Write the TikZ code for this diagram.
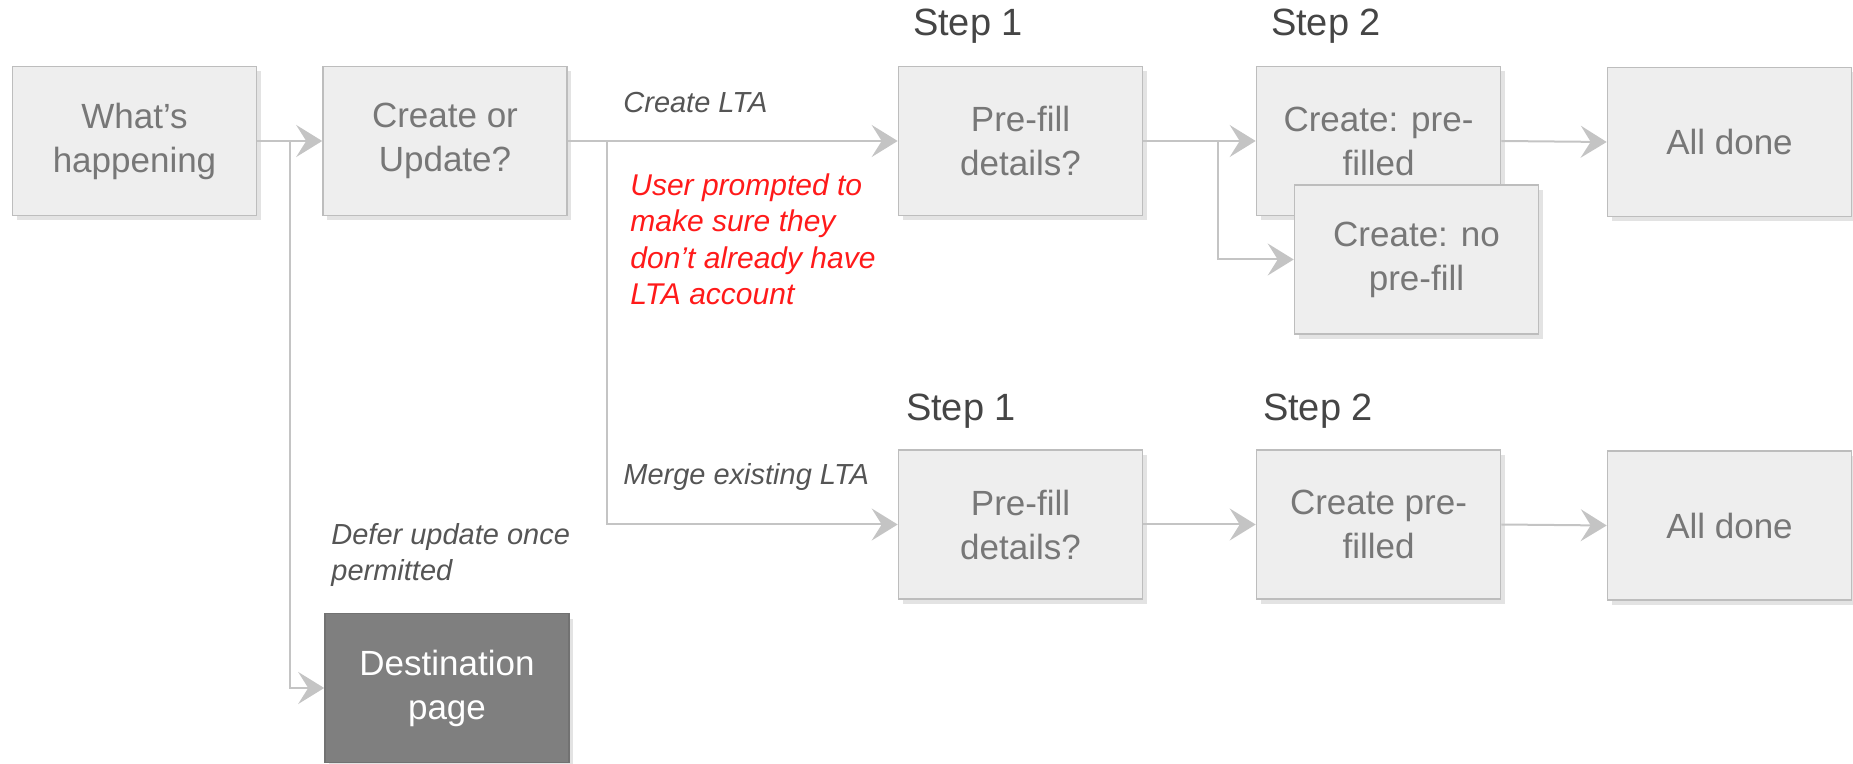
\documentclass[tikz,border=0pt]{standalone}
\usepackage{fontspec}
\setmainfont{Liberation Sans}
\usetikzlibrary{arrows.meta,shadows,positioning}
\definecolor{boxfill}{HTML}{EEEEEE}
\definecolor{boxline}{HTML}{BDBDBD}
\definecolor{boxtext}{HTML}{777777}
\definecolor{darkfill}{HTML}{7F7F7F}
\definecolor{linegray}{HTML}{C4C4C4}
\definecolor{labeltext}{HTML}{555555}
\definecolor{steptext}{HTML}{454545}
\definecolor{notered}{HTML}{FF1A1A}

\begin{document}
\begin{tikzpicture}[x=0.5pt,y=-0.5pt]
	\tikzstyle{flowbox}=[rectangle, draw=boxline, line width=0.8pt, fill=boxfill, text=boxtext, minimum width=122pt, minimum height=74.5pt, align=center, font=\fontsize{17.5}{22}\selectfont, inner sep=2pt, drop shadow={shadow xshift=2pt, shadow yshift=-2.5pt, opacity=0.22}]
	\tikzstyle{darkbox}=[flowbox, fill=darkfill, draw=darkfill!90!black, text=white]
	\tikzstyle{conn}=[draw=linegray, line width=1pt, -{Stealth[length=13pt,width=16pt,inset=5pt]}]
	\tikzstyle{lbl}=[text=labeltext, font=\fontsize{14.5}{18}\selectfont\itshape, align=left, inner sep=0pt]
	\tikzstyle{steplbl}=[text=steptext, font=\fontsize{19}{22}\selectfont, inner sep=0pt]
	\useasboundingbox (0,0) rectangle (1853,764);

	% first row
	\node[flowbox] (what) at (134.5,141) {What’s\\happening};
	\node[flowbox] (upd) at (445,141) {Create or\\Update?};
	\node[flowbox] (pf1) at (1020.5,141) {Pre-fill\\details?};
	\node[flowbox] (cp1) at (1378.5,141) {Create: pre-\\filled};
	\node[flowbox] (np) at (1416.5,259.5) {Create: no\\pre-fill};
	\node[flowbox] (done1) at (1729.5,142) {All done};

	% second row
	\node[flowbox] (pf2) at (1020.5,524.5) {Pre-fill\\details?};
	\node[flowbox] (cp2) at (1378.5,524.5) {Create pre-\\filled};
	\node[flowbox] (done2) at (1729.5,525.5) {All done};
	\node[darkbox] (dest) at (447,688) {Destination\\page};

	% step titles
	\node[steplbl] (s1a) at (968,26) {Step 1};
	\node[steplbl] (s2a) at (1326,26) {Step 2};
	\node[steplbl] (s1b) at (961,411) {Step 1};
	\node[steplbl] (s2b) at (1318,411) {Step 2};

	% branch labels
	\node[lbl, anchor=west] (lcreate) at (623,103) {Create LTA};
	\node[lbl, anchor=north west, text=notered, font=\fontsize{15}{18.3}\selectfont\itshape] (lnote) at (630,173) {User prompted to\\make sure they\\don’t already have\\LTA account};
	\node[lbl, anchor=west] (lmerge) at (623,477) {Merge existing LTA};
	\node[lbl, anchor=north west] (ldefer) at (331,523) {Defer update once\\permitted};

	% junctions
	\coordinate (j1) at (290,141);
	\coordinate (j2) at (607,141);
	\coordinate (j3) at (1218,141);

	% connectors
	\draw[conn] (what.east) -- (upd.west);
	\draw[conn] (j1) |- (dest.west);
	\draw[conn] (upd.east) -- (pf1.west);
	\draw[conn] (j2) |- (pf2.west);
	\draw[conn] (pf1.east) -- (cp1.west);
	\draw[conn] (j3) |- (np.west);
	\draw[conn] (cp1.east) -- (done1.west);
	\draw[conn] (pf2.east) -- (cp2.west);
	\draw[conn] (cp2.east) -- (done2.west);
\end{tikzpicture}
\end{document}
